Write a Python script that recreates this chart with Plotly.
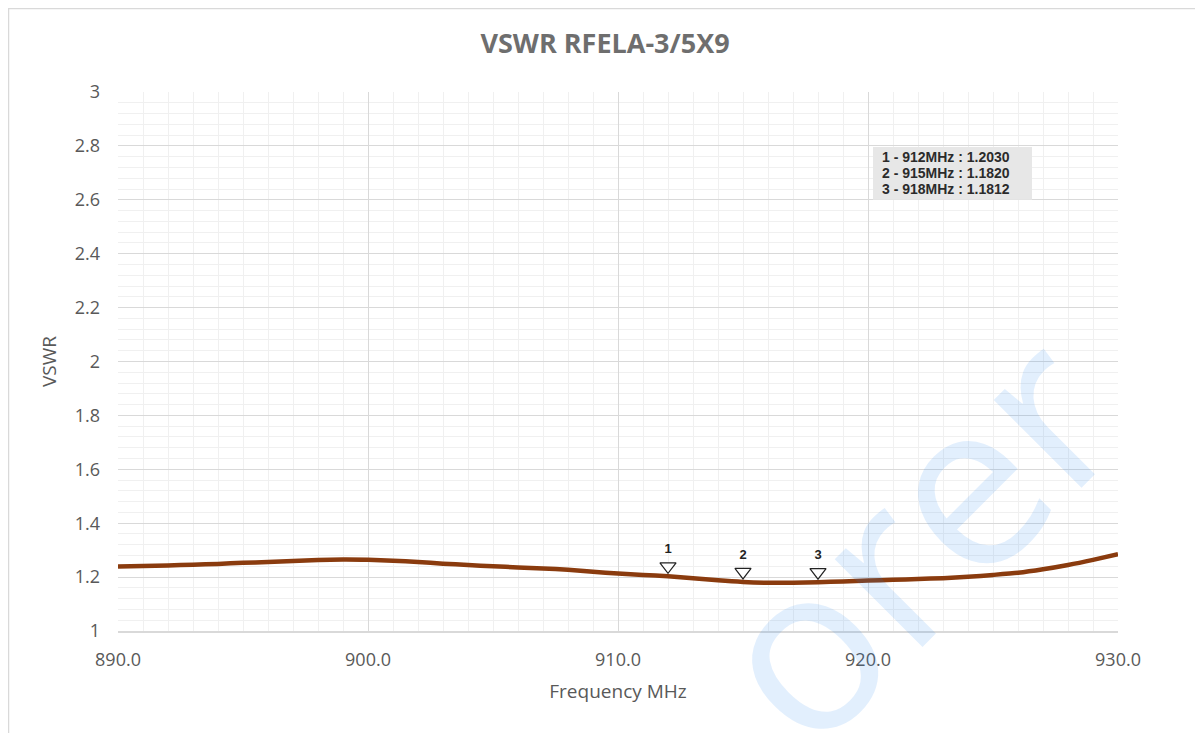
import plotly.graph_objects as go

# ---- data ----
freq_mhz = list(range(890, 931))
vswr = [1.239, 1.241, 1.243, 1.246, 1.249, 1.253, 1.256, 1.260, 1.263, 1.265,
        1.264, 1.261, 1.256, 1.250, 1.245, 1.240, 1.236, 1.232, 1.227, 1.220,
        1.213, 1.208, 1.203, 1.196, 1.188, 1.182, 1.179, 1.179, 1.181, 1.184,
        1.187, 1.190, 1.193, 1.196, 1.201, 1.208, 1.216, 1.229, 1.245, 1.264,
        1.285]
marker_ids = ["1", "2", "3"]
marker_freq = [912, 915, 918]
marker_vswr = [1.2030, 1.1820, 1.1812]
x_ticks = [890, 900, 910, 920, 930]
y_ticks = [1, 1.2, 1.4, 1.6, 1.8, 2, 2.2, 2.4, 2.6, 2.8, 3]

title_text = "VSWR RFELA-3/5X9"
x_title = "Frequency MHz"
y_title = "VSWR"

# ---- layout geometry (page has an 8px body margin) ----
W, H = 1195, 725
ML, MT = 110, 84
plot_w, plot_h = 1000, 539
MR, MB = W - ML - plot_w, H - MT - plot_h
y_range = [1, 3]
px_to_y = (y_range[1] - y_range[0]) / plot_h
marker_offset = 10 * px_to_y  # triangle sits just above the curve

grey = "#595959"
fig = go.Figure()

fig.add_trace(go.Scatter(
    x=freq_mhz, y=vswr, mode="lines",
    line=dict(color="#8A3B0E", width=4.5, shape="spline", smoothing=0.6),
    hoverinfo="x+y", showlegend=False))

fig.add_trace(go.Scatter(
    x=marker_freq, y=[v + marker_offset for v in marker_vswr],
    mode="markers+text", text=[f"<b>{m}</b>" for m in marker_ids],
    textposition="top center",
    textfont=dict(family="Liberation Sans", size=13, color="#222222"),
    marker=dict(symbol="triangle-down", size=14, color="white",
                line=dict(color="#222222", width=1.2)),
    showlegend=False, cliponaxis=False))

# info box
fig.add_shape(type="rect", xref="paper", yref="paper",
              x0=0.755, x1=0.914, y0=0.800, y1=0.898,
              fillcolor="#E7E7E7", line=dict(width=0), layer="above")
line_y = [0.880, 0.8503, 0.8195]
for mid, f, v, yy in zip(marker_ids, marker_freq, marker_vswr, line_y):
    fig.add_annotation(xref="paper", yref="paper", x=0.762, y=yy,
                       xanchor="left", yanchor="middle", showarrow=False,
                       text=f"<b>{mid} - {f}MHz : {v:.4f}</b>",
                       font=dict(family="Liberation Sans", size=14, color="#2B2B2B"))

# outer chart border
fig.add_shape(type="rect", xref="paper", yref="paper",
              x0=(-ML + 0.5) / plot_w, x1=(1189 - ML) / plot_w,
              y0=(MT + plot_h - H - 5) / plot_h, y1=(MT - 0.5) / plot_h + 1,
              line=dict(color="#D9D9D9", width=1.5), fillcolor="rgba(0,0,0,0)",
              layer="below")

# watermark
fig.add_annotation(xref="paper", yref="paper", x=0.79, y=0.18,
                   xanchor="center", yanchor="middle", showarrow=False,
                   text="orer", textangle=-45,
                   font=dict(family="Open Sans", size=232, color="rgba(30,130,240,0.13)"))

fig.update_layout(
    width=W, height=H,
    margin=dict(l=ML, r=MR, t=MT, b=MB),
    paper_bgcolor="white", plot_bgcolor="white",
    font=dict(family="Open Sans", color=grey),
    title=dict(text=f"<b>{title_text}</b>", xref="paper",
               x=(597 - ML) / plot_w, xanchor="center",
               y=1 - 36 / H, yanchor="middle",
               font=dict(family="Open Sans", size=27, color="#6E6E6E")),
)

fig.update_xaxes(
    range=[890, 930], tickvals=x_ticks, tickformat=".1f",
    showgrid=True, gridcolor="#D9D9D9", gridwidth=1,
    minor=dict(dtick=1, showgrid=True, gridcolor="#F0F0F0", gridwidth=1),
    showline=True, linecolor="#D9D9D9", linewidth=1.5, mirror=False,
    zeroline=False, ticks="", ticklabelstandoff=12,
    tickfont=dict(size=18, color=grey),
    title=dict(text=x_title, font=dict(size=19, color=grey), standoff=14),
)
fig.update_yaxes(
    range=y_range, tickvals=y_ticks, ticktext=[f"{t:g}" for t in y_ticks],
    showgrid=True, gridcolor="#D9D9D9", gridwidth=1,
    minor=dict(dtick=0.04, showgrid=True, gridcolor="#F0F0F0", gridwidth=1),
    showline=False, zeroline=False, ticks="", ticklabelstandoff=17,
    tickfont=dict(size=18, color=grey),
    title=dict(text=y_title, font=dict(size=19, color=grey), standoff=13),
)

fig.write_html("out.html")
